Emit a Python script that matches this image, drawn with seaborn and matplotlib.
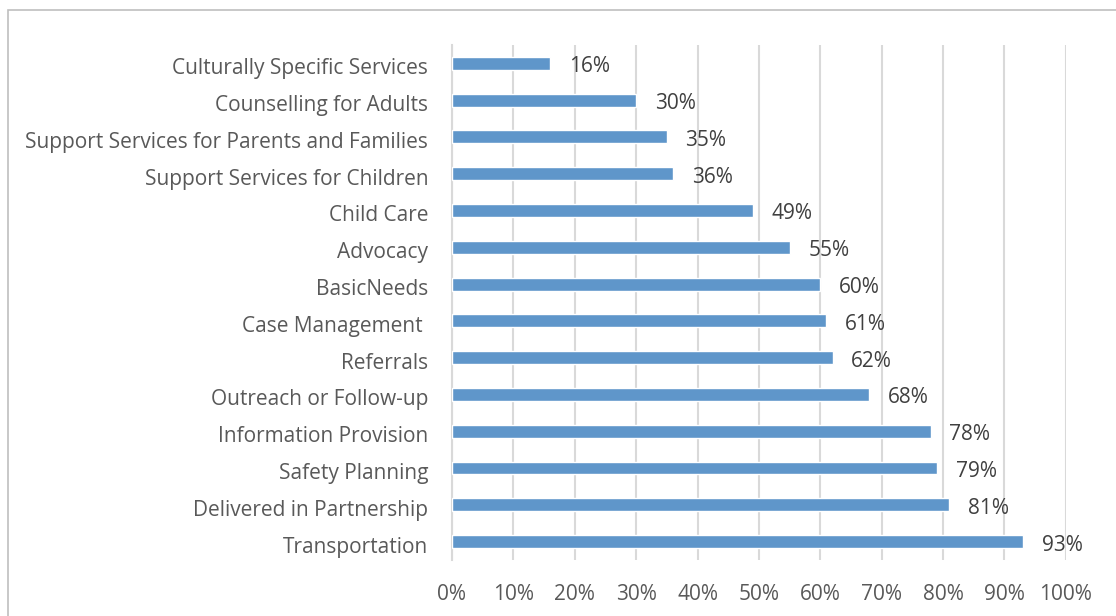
import matplotlib
matplotlib.use("Agg")
import matplotlib.pyplot as plt
from matplotlib.patches import Rectangle
from matplotlib.ticker import PercentFormatter
from matplotlib.transforms import ScaledTranslation
import seaborn as sns
import pandas as pd

services = [
    "Culturally Specific Services",
    "Counselling for Adults",
    "Support Services for Parents and Families",
    "Support Services for Children",
    "Child Care",
    "Advocacy",
    "BasicNeeds",
    "Case Management ",
    "Referrals",
    "Outreach or Follow-up",
    "Information Provision",
    "Safety Planning",
    "Delivered in Partnership",
    "Transportation",
]
shares = [16, 30, 35, 36, 49, 55, 60, 61, 62, 68, 78, 79, 81, 93]
x_ticks = [0, 10, 20, 30, 40, 50, 60, 70, 80, 90, 100]

df = pd.DataFrame({"service": services, "share": shares})

sns.set_theme(style="white")
plt.rcParams["font.family"] = ["Open Sans", "DejaVu Sans"]

text_color = "#595959"
value_color = "#404040"
grid_color = "#D9D9D9"
bar_color = "#5F96CA"

fig = plt.figure(figsize=(11.16, 6.16), dpi=100)
ax = fig.add_axes([0.405, 0.091, 0.550, 0.836])

sns.barplot(data=df, x="share", y="service", order=services, color=bar_color,
            width=0.35, saturation=1, ax=ax, zorder=3)

ax.set_xlim(0, 100)
ax.set_xticks(x_ticks)
ax.xaxis.set_major_formatter(PercentFormatter(decimals=0))
ax.grid(axis="x", color=grid_color, linewidth=1.5, zorder=0)
ax.grid(axis="y", visible=False)
ax.set_xlabel("")
ax.set_ylabel("")

for side in ["top", "right", "bottom"]:
    ax.spines[side].set_visible(False)
ax.spines["left"].set_color(grid_color)
ax.spines["left"].set_linewidth(1.5)

ax.tick_params(axis="both", length=0, colors=text_color, labelsize=15)
ax.tick_params(axis="x", pad=17)
ax.tick_params(axis="y", pad=17)

# category labels sit a little below the bar centre
shift = ScaledTranslation(0, -3 / 100, fig.dpi_scale_trans)
for lbl in ax.get_yticklabels():
    lbl.set_transform(lbl.get_transform() + shift)

for i, v in enumerate(shares):
    ax.annotate(f"{v}%", xy=(v, i), xytext=(13.5, -2.5), textcoords="offset points",
                ha="left", va="center", fontsize=15, color=value_color)

fig.patches.append(Rectangle((8 / 1116, -0.1), 1.2, 1.1 - 10 / 616,
                             transform=fig.transFigure, fill=False,
                             edgecolor="#BFBFBF", linewidth=1.2))

fig.savefig("out.png", dpi=100, facecolor="white")
